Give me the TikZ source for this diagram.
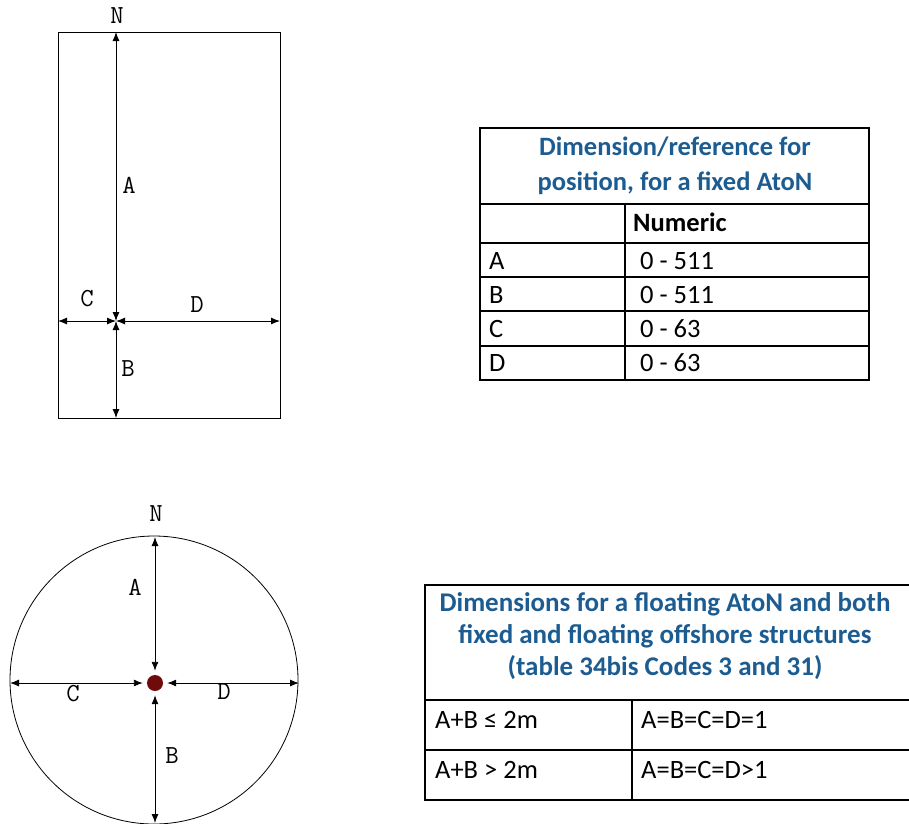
\documentclass[tikz,border=0pt]{standalone}
\usepackage{fontspec}
\setmainfont{Carlito}
\usepackage{tikz}
\usetikzlibrary{arrows.meta}
\definecolor{headblue}{RGB}{28,92,145}
\definecolor{dotred}{RGB}{110,12,12}
\tikzset{>={Latex[length=9pt,width=7pt]}}
\tikzset{
  dimline/.style={<->,line width=0.9pt},
  letter/.style={font=\ttfamily\fontsize{26}{26}\selectfont,inner sep=0pt},
  cell/.style={font=\fontsize{26.5}{30}\selectfont,inner sep=0pt,anchor=west},
  head/.style={font=\bfseries\fontsize{26.5}{35}\selectfont,text=headblue,align=center,inner sep=0pt},
  rule/.style={line width=1.4pt}
}

\begin{document}
\begin{tikzpicture}[x=1pt,y=-1pt]
  \useasboundingbox (0,0) rectangle (909,823);
  % fixed AtoN
  \draw[line width=0.8pt] (58,32) rectangle (280,418);
  \coordinate (rc) at (116,321);
  \coordinate (rtop) at (116,32);
  \coordinate (rbot) at (116,418);
  \coordinate (rleft) at (58,321);
  \coordinate (rright) at (280,321);
  \draw[dimline] (rc) -- (rtop);
  \draw[dimline] (rc) -- (rbot);
  \draw[dimline] (rc) -- (rleft);
  \draw[dimline] (rc) -- (rright);
  \node[letter] (rN) at (117,16) {N};
  \node[letter] (rA) at (129,185) {A};
  \node[letter] (rC) at (87,299) {C};
  \node[letter] (rD) at (197,305) {D};
  \node[letter] (rB) at (128,369) {B};
  % floating AtoN
  \draw[line width=0.8pt] (154,680) circle [radius=144];
  \node[circle,fill=dotred,minimum size=16pt,inner sep=0pt] (dot) at (155,683) {};
  \coordinate (ctop) at (155,537);
  \coordinate (cbot) at (155,823);
  \coordinate (cleft) at (10,683);
  \coordinate (cright) at (299,683);
  \draw[dimline,shorten <=4pt] (dot) -- (ctop);
  \draw[dimline,shorten <=4pt] (dot) -- (cbot);
  \draw[dimline,shorten <=4pt] (dot) -- (cleft);
  \draw[dimline,shorten <=4pt] (dot) -- (cright);
  \node[letter] (cN) at (156,514) {N};
  \node[letter] (cA) at (135,587) {A};
  \node[letter] (cC) at (73,694) {C};
  \node[letter] (cD) at (224,692) {D};
  \node[letter] (cB) at (172,756) {B};
  % table one
  \draw[rule] (480,128) rectangle (869,380);
  \foreach \y in {204,243,277,311,346} \draw[rule] (480,\y) -- (869,\y);
  \draw[rule] (625,204) -- (625,380);
  \node[head] (fixhead) at (675,166) {Dimension/reference for\\position, for a fixed AtoN};
  \node[cell,font=\bfseries\fontsize{26.5}{30}\selectfont] (numeric) at (633,222) {Numeric};
  \foreach \lab/\val/\y in {A/0 - 511/261,B/0 - 511/295,C/0 - 63/329,D/0 - 63/363} {
    \node[cell] (lab\lab) at (489,\y) {\lab};
    \node[cell] (val\lab) at (640,\y) {\val};
  }
  % table two
  \draw[rule] (909,585) -- (425,585) -- (425,800) -- (909,800);
  \draw[rule] (425,700) -- (909,700);
  \draw[rule] (425,750) -- (909,750);
  \draw[rule] (632,700) -- (632,800);
  \node[head,font=\bfseries\fontsize{27}{32}\selectfont] (floathead) at (665,636)
    {Dimensions for a floating AtoN and both\\fixed and floating offshore structures\\(table 34bis Codes 3 and 31)};
  \node[cell] (small) at (435,720) {A+B ≤ 2m};
  \node[cell] (smallval) at (641,720) {A=B=C=D=1};
  \node[cell] (large) at (435,770) {A+B > 2m};
  \node[cell] (largeval) at (641,770) {A=B=C=D>1};
\end{tikzpicture}
\end{document}
